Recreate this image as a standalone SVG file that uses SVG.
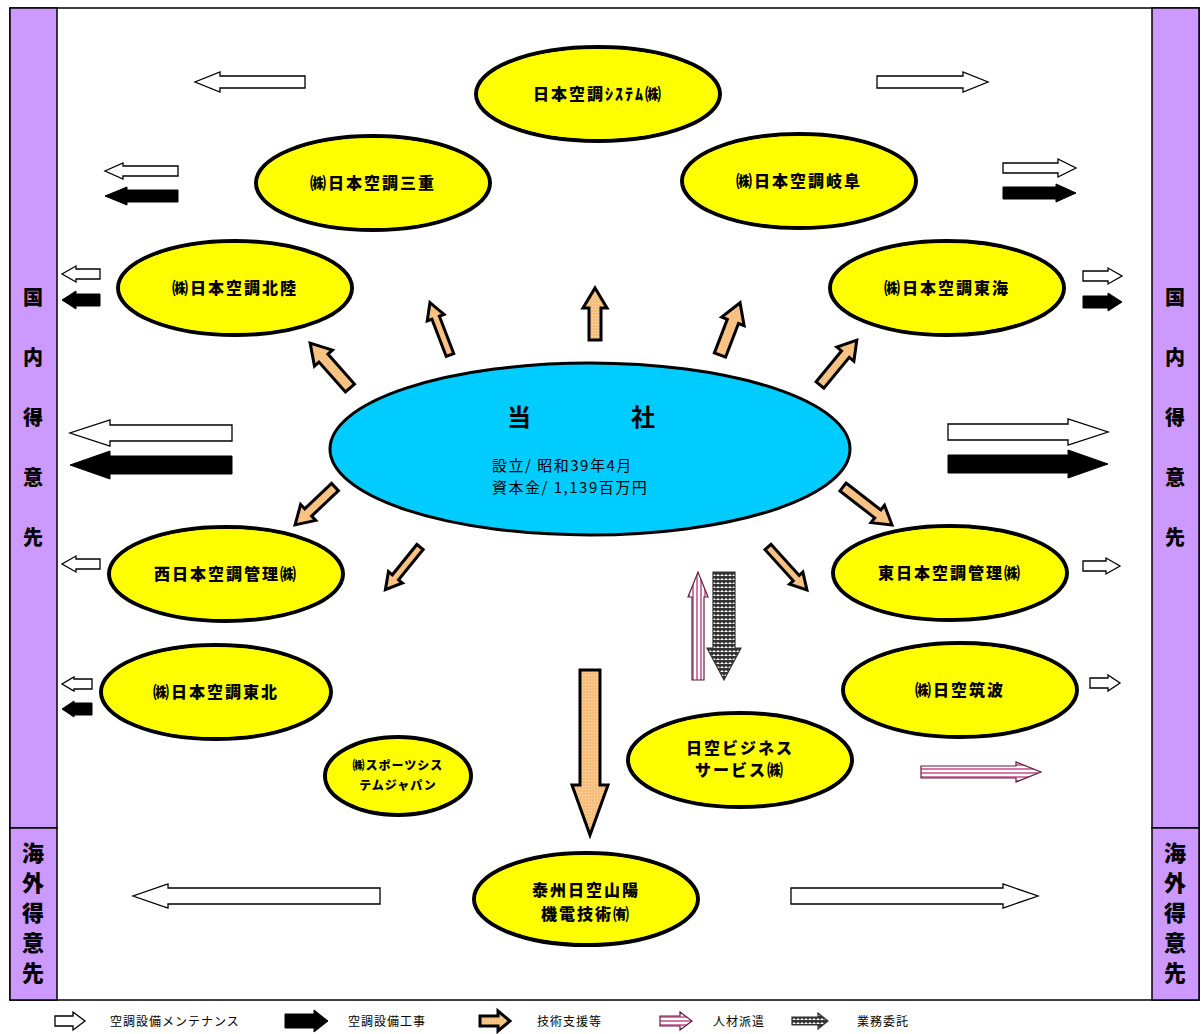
<svg xmlns="http://www.w3.org/2000/svg" width="1201" height="1034" viewBox="0 0 1201 1034">
<style>
.frame{fill:#fff;stroke:#000;stroke-width:1.5}
.col{fill:#CC99FF;stroke:#000;stroke-width:1.5}
.coltxt{font-family:"Noto Sans CJK JP",sans-serif;font-weight:900;font-size:20px;text-anchor:middle;fill:#000}
.coltxt2{font-family:"Noto Sans CJK JP",sans-serif;font-weight:900;font-size:22px;text-anchor:middle;fill:#000}
.nodeo{fill:#FFFF00;stroke:#000;stroke-width:4}
.nodei{fill:none;stroke:#FFFF00;stroke-width:1.3}
.lbl{font-family:"Noto Sans CJK JP",sans-serif;font-weight:900;font-size:16px;text-anchor:middle;fill:#000;letter-spacing:2px}
.main{fill:#00CCFF;stroke:#000;stroke-width:3}
.maint{font-family:"Noto Sans CJK JP",sans-serif;font-weight:700;font-size:24px;fill:#000}
.info{font-family:"Noto Sans CJK JP",sans-serif;font-size:15px;fill:#000;letter-spacing:1.5px}
.w{fill:#fff;stroke:#000;stroke-width:1.3}
.b{fill:#000;stroke:#000;stroke-width:1}
.o{fill:url(#dotO);stroke:#000;stroke-width:3;stroke-linejoin:miter}
.pv{fill:url(#pinkV);stroke:#602040;stroke-width:1.2}
.ph{fill:url(#pinkH);stroke:#602040;stroke-width:1.2}
.g{fill:url(#chk);stroke:#333;stroke-width:1.2}
.leg{font-family:"Noto Sans CJK JP",sans-serif;font-size:12px;fill:#000;letter-spacing:1px}
</style>
<defs>
<pattern id="dotO" width="3" height="3" patternUnits="userSpaceOnUse">
<rect width="3" height="3" fill="#F8BE7C"/>
<rect width="1" height="1" fill="#FFE0B8"/>
</pattern>
<pattern id="pinkV" width="4" height="4" patternUnits="userSpaceOnUse">
<rect width="4" height="4" fill="#fff"/>
<rect width="2" height="4" fill="#D07AA8"/>
</pattern>
<pattern id="pinkH" width="4" height="4" patternUnits="userSpaceOnUse">
<rect width="4" height="4" fill="#fff"/>
<rect width="4" height="2" fill="#D07AA8"/>
</pattern>
<pattern id="chk" width="4" height="4" patternUnits="userSpaceOnUse">
<rect width="4" height="4" fill="#fff"/>
<path d="M0,0 L2,2 L0,4 Z M4,0 L2,2 L4,4 Z M0,0 L4,0 L2,2 Z" fill="#333"/>
</pattern>
</defs>

<g id="frame">
<rect class="frame" x="10" y="8" width="1189" height="992"/>
<rect class="col" x="10" y="8" width="47" height="820"/>
<rect class="col" x="10" y="828" width="47" height="172"/>
<rect class="col" x="1152" y="8" width="47" height="820"/>
<rect class="col" x="1152" y="828" width="47" height="172"/>
</g>

<g id="col-left-domestic">
<text class="coltxt" x="33" y="305">国</text>
<text class="coltxt" x="33" y="365">内</text>
<text class="coltxt" x="33" y="425">得</text>
<text class="coltxt" x="33" y="485">意</text>
<text class="coltxt" x="33" y="545">先</text>
</g>
<g id="col-left-overseas">
<text class="coltxt2" x="33" y="861">海</text>
<text class="coltxt2" x="33" y="891">外</text>
<text class="coltxt2" x="33" y="921">得</text>
<text class="coltxt2" x="33" y="951">意</text>
<text class="coltxt2" x="33" y="981">先</text>
</g>
<g id="col-right-domestic">
<text class="coltxt" x="1175" y="305">国</text>
<text class="coltxt" x="1175" y="365">内</text>
<text class="coltxt" x="1175" y="425">得</text>
<text class="coltxt" x="1175" y="485">意</text>
<text class="coltxt" x="1175" y="545">先</text>
</g>
<g id="col-right-overseas">
<text class="coltxt2" x="1175" y="861">海</text>
<text class="coltxt2" x="1175" y="891">外</text>
<text class="coltxt2" x="1175" y="921">得</text>
<text class="coltxt2" x="1175" y="951">意</text>
<text class="coltxt2" x="1175" y="981">先</text>
</g>

<g id="connectors">
<path class="w" d="M305,76 H220 V72 L195,82 L220,92 V88 H305 Z"/>
<path class="w" d="M178,166 H123 V163 L105,171 L123,179 V176 H178 Z"/>
<path class="b" d="M178,190 H127 V187 L105,196 L127,205 V202 H178 Z"/>
<path class="w" d="M100,269 H76 V266 L62,274 L76,282 V279 H100 Z"/>
<path class="b" d="M100,294 H76 V291 L62,300 L76,309 V306 H100 Z"/>
<path class="w" d="M232,425 H110 V420 L70,433 L110,446 V441 H232 Z"/>
<path class="b" d="M232,456 H110 V451 L70,465 L110,479 V474 H232 Z"/>
<path class="w" d="M100,559 H76 V556 L62,564 L76,572 V569 H100 Z"/>
<path class="w" d="M92,679 H74 V677 L62,684 L74,691 V689 H92 Z"/>
<path class="b" d="M92,703 H74 V701 L62,709 L74,717 V715 H92 Z"/>
<path class="w" d="M380,888 H168 V884 L133,896 L168,908 V904 H380 Z"/>
<path class="w" d="M877,76 H963 V72 L988,82 L963,92 V88 H877 Z"/>
<path class="w" d="M1003,163 H1058 V159 L1076,168 L1058,177 V173 H1003 Z"/>
<path class="b" d="M1003,187 H1056 V184 L1076,193 L1056,202 V199 H1003 Z"/>
<path class="w" d="M1083,271 H1108 V268 L1122,276 L1108,284 V281 H1083 Z"/>
<path class="b" d="M1083,296 H1108 V293 L1122,302 L1108,311 V308 H1083 Z"/>
<path class="w" d="M948,424 H1068 V419 L1108,432 L1068,445 V440 H948 Z"/>
<path class="b" d="M948,455 H1068 V450 L1108,464 L1068,478 V473 H948 Z"/>
<path class="w" d="M1083,561 H1106 V558 L1120,566 L1106,574 V571 H1083 Z"/>
<path class="w" d="M1090,678 H1108 V675 L1120,683 L1108,691 V688 H1090 Z"/>
<path class="w" d="M791,888 H1003 V884 L1038,896 L1003,908 V904 H791 Z"/>
<path class="ph" d="M921,766 H1016 V762 L1041,772 L1016,782 V778 H921 Z"/>
<path class="o" transform="translate(350,388) rotate(-131.6)" d="M0,-6 H40 V-12 L60,0 L40,12 V6 H0 Z"/>
<path class="o" transform="translate(450,355) rotate(-111)" d="M0,-4 H40 V-9 L56,0 L40,9 V4 H0 Z"/>
<path class="o" transform="translate(595,340) rotate(-90)" d="M0,-6 H32 V-12 L52,0 L32,12 V6 H0 Z"/>
<path class="o" transform="translate(720,355) rotate(-69)" d="M0,-6 H36 V-12 L56,0 L36,12 V6 H0 Z"/>
<path class="o" transform="translate(820,385) rotate(-50.6)" d="M0,-5 H40 V-11 L58,0 L40,11 V5 H0 Z"/>
<path class="o" transform="translate(335,487) rotate(136.5)" d="M0,-5 H37 V-11 L55,0 L37,11 V5 H0 Z"/>
<path class="o" transform="translate(420,547) rotate(129)" d="M0,-4 H39 V-9 L55,0 L39,9 V4 H0 Z"/>
<path class="o" transform="translate(843,487) rotate(37.8)" d="M0,-5 H44 V-11 L62,0 L44,11 V5 H0 Z"/>
<path class="o" transform="translate(768,547) rotate(47.8)" d="M0,-4 H42 V-9 L58,0 L42,9 V4 H0 Z"/>
<path class="o" d="M580,670 V785 H572 L590,835 L608,785 H600 V670 Z"/>
<path class="pv" d="M692,680 V597 H688 L698,572 L708,597 H704 V680 Z"/>
<path class="g" d="M713,572 V648 H707 L724,680 L741,648 H735 V572 Z"/>
</g>

<g id="node-nikku-system">
<ellipse class="nodeo" cx="598" cy="94" rx="122" ry="47"/>
<ellipse class="nodei" cx="598" cy="94" rx="119" ry="44"/>
<text class="lbl" x="598" y="100" letter-spacing="1">日本空調ｼｽﾃﾑ㈱</text>
</g>
<g id="node-mie">
<ellipse class="nodeo" cx="373" cy="183" rx="117" ry="47"/>
<ellipse class="nodei" cx="373" cy="183" rx="114" ry="44"/>
<text class="lbl" x="373" y="189">㈱日本空調三重</text>
</g>
<g id="node-gifu">
<ellipse class="nodeo" cx="799" cy="181" rx="117" ry="47"/>
<ellipse class="nodei" cx="799" cy="181" rx="114" ry="44"/>
<text class="lbl" x="799" y="187">㈱日本空調岐阜</text>
</g>
<g id="node-hokuriku">
<ellipse class="nodeo" cx="235" cy="288" rx="117" ry="47"/>
<ellipse class="nodei" cx="235" cy="288" rx="114" ry="44"/>
<text class="lbl" x="235" y="294">㈱日本空調北陸</text>
</g>
<g id="node-tokai">
<ellipse class="nodeo" cx="947" cy="288" rx="117" ry="47"/>
<ellipse class="nodei" cx="947" cy="288" rx="114" ry="44"/>
<text class="lbl" x="947" y="294">㈱日本空調東海</text>
</g>
<g id="node-main">
<ellipse class="main" cx="590" cy="449" rx="260" ry="86"/>
<text class="maint" x="507" y="426">当</text>
<text class="maint" x="631" y="426">社</text>
<text class="info" x="492" y="471">設立/ 昭和39年4月</text>
<text class="info" x="492" y="493">資本金/ 1,139百万円</text>
</g>
<g id="node-nishinihon">
<ellipse class="nodeo" cx="226" cy="574" rx="117" ry="47"/>
<ellipse class="nodei" cx="226" cy="574" rx="114" ry="44"/>
<text class="lbl" x="226" y="580">西日本空調管理㈱</text>
</g>
<g id="node-higashinihon">
<ellipse class="nodeo" cx="950" cy="573" rx="117" ry="47"/>
<ellipse class="nodei" cx="950" cy="573" rx="114" ry="44"/>
<text class="lbl" x="950" y="579">東日本空調管理㈱</text>
</g>
<g id="node-tohoku">
<ellipse class="nodeo" cx="216" cy="692" rx="115" ry="47"/>
<ellipse class="nodei" cx="216" cy="692" rx="112" ry="44"/>
<text class="lbl" x="216" y="698">㈱日本空調東北</text>
</g>
<g id="node-tsukuba">
<ellipse class="nodeo" cx="960" cy="690" rx="117" ry="47"/>
<ellipse class="nodei" cx="960" cy="690" rx="114" ry="44"/>
<text class="lbl" x="960" y="696">㈱日空筑波</text>
</g>
<g id="node-business">
<ellipse class="nodeo" cx="740" cy="760" rx="112" ry="47"/>
<ellipse class="nodei" cx="740" cy="760" rx="109" ry="44"/>
<text class="lbl" x="740" y="754">日空ビジネス</text>
<text class="lbl" x="740" y="776">サービス㈱</text>
</g>
<g id="node-sports">
<ellipse class="nodeo" cx="398" cy="776" rx="73" ry="39"/>
<ellipse class="nodei" cx="398" cy="776" rx="70" ry="36"/>
<text class="lbl" x="398" y="770" style="font-size:12px;letter-spacing:1px">㈱スポーツシス</text>
<text class="lbl" x="398" y="790" style="font-size:12px;letter-spacing:1px">テムジャパン</text>
</g>
<g id="node-taizhou">
<ellipse class="nodeo" cx="586" cy="899" rx="112" ry="46"/>
<ellipse class="nodei" cx="586" cy="899" rx="109" ry="43"/>
<text class="lbl" x="586" y="896">泰州日空山陽</text>
<text class="lbl" x="586" y="920">機電技術㈲</text>
</g>

<g id="legend">
<path class="w" d="M55,1016 H73 V1012 L85,1021 L73,1030 V1026 H55 Z"/>
<text class="leg" x="110" y="1026">空調設備メンテナンス</text>
<path class="b" d="M285,1014 H314 V1010 L328,1021 L314,1032 V1028 H285 Z"/>
<text class="leg" x="348" y="1026">空調設備工事</text>
<path class="o" d="M480,1016 H498 V1011 L510,1021 L498,1031 V1026 H480 Z"/>
<text class="leg" x="537" y="1026">技術支援等</text>
<path class="ph" d="M660,1016 H680 V1012 L692,1021 L680,1030 V1026 H660 Z"/>
<text class="leg" x="713" y="1026">人材派遣</text>
<path class="g" d="M792,1017 H818 V1013 L828,1021 L818,1029 V1025 H792 Z"/>
<text class="leg" x="857" y="1026">業務委託</text>
</g>
</svg>
